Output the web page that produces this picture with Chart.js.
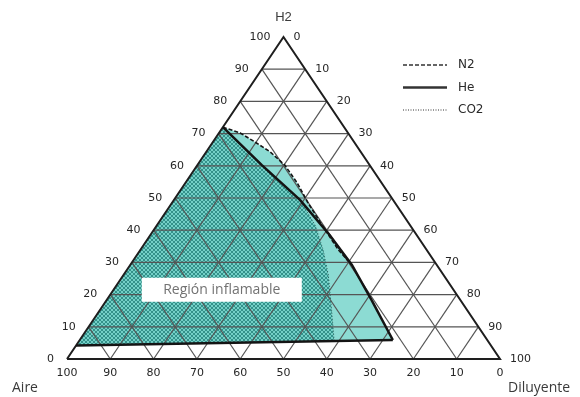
<!DOCTYPE html>
<html lang="es">
<head>
<meta charset="utf-8">
<title>Diagrama ternario H2 - Aire - Diluyente</title>
<script src="https://cdn.jsdelivr.net/npm/chart.js"></script>
<style>
  html, body { margin: 0; padding: 0; background: #fff; }
  #wrap { width: 580px; height: 397px; }
</style>
</head>
<body>
<div id="wrap"><canvas id="ternaryChart" width="580" height="397"></canvas></div>
<script>
// Tick values (percent)
const h2Ticks = [0, 10, 20, 30, 40, 50, 60, 70, 80, 90, 100];
const aireTicks = [100, 90, 80, 70, 60, 50, 40, 30, 20, 10, 0];
const gridSteps = [10, 20, 30, 40, 50, 60, 70, 80, 90];

// Flammability boundaries, each point is [Diluyente %, H2 %]
const heBoundary = [[0, 72], [14.9, 60.2], [29.1, 49.4], [41.4, 38.5], [51.2, 29.2], [61.2, 18.3], [72.3, 5.9]];
const n2Boundary = [[0, 72], [4.9, 70.2], [9.7, 67.4], [14.8, 64.3], [20.2, 60.2], [25.8, 54.7], [31.5, 48.4], [38.1, 41.6], [45.7, 33.9], [51.2, 29.2]];
const co2Boundary = [[0, 72], [14.9, 60.2], [29.1, 49.4], [36.5, 41.6], [42.2, 33.9], [47.3, 26.1], [52.6, 16.8], [58.9, 5.6]];
const lowerLimit = [[72.3, 5.9], [0, 4.2]];
const regionLabel = [25, 21.5];

// ternary -> cartesian (x along base, y = H2 height)
const toXY = ([d, h]) => ({ x: (d + h / 2) / 100, y: h / 100 });

const lineDs = (pts, opts) => Object.assign({
  data: pts.map(toXY),
  showLine: true,
  pointRadius: 0,
  borderColor: '#555',
  borderWidth: 1.2,
  fill: false,
  tension: 0,
  clip: false
}, opts);

// Cross hatch pattern for the CO2 region
function makeHatch() {
  const c = document.createElement('canvas');
  c.width = 4;
  c.height = 4;
  const g = c.getContext('2d');
  g.fillStyle = '#74d0c7';
  g.fillRect(0, 0, 4, 4);
  g.fillStyle = '#34918a';
  for (let i = 0; i < 4; i++) {
    g.fillRect(i, i, 1, 1);
    g.fillRect(3 - i, i, 1, 1);
  }
  return g.createPattern(c, 'repeat');
}

const lightTeal = '#8cdbd3';
const heTail = heBoundary.filter(p => p[0] > 51.2);

const datasets = [];

// Filled regions
datasets.push(lineDs(n2Boundary.concat(heTail, [[0, 4.2]]), {
  borderWidth: 0, borderColor: 'rgba(0,0,0,0)', backgroundColor: lightTeal, fill: 'shape', order: 100
}));
datasets.push(lineDs(heBoundary.concat([[0, 4.2]]), {
  borderWidth: 0, borderColor: 'rgba(0,0,0,0)', backgroundColor: lightTeal, fill: 'shape', order: 99
}));
datasets.push(lineDs(co2Boundary.concat([[0, 4.2]]), {
  borderWidth: 0, borderColor: 'rgba(0,0,0,0)', backgroundColor: makeHatch(), fill: 'shape', order: 98
}));

// Grid lines
gridSteps.forEach(k => {
  datasets.push(lineDs([[0, k], [100 - k, k]], { order: 50 }));
  datasets.push(lineDs([[k, 0], [k, 100 - k]], { order: 50 }));
  datasets.push(lineDs([[100 - k, 0], [0, 100 - k]], { order: 50 }));
});

// Triangle outline
datasets.push(lineDs([[0, 0], [100, 0], [0, 100], [0, 0]], {
  borderColor: '#1e1e1e', borderWidth: 2, order: 40
}));

// Boundary lines
datasets.push(lineDs(co2Boundary, { borderColor: '#2c5f5a', borderWidth: 1, borderDash: [1, 2], order: 30 }));
datasets.push(lineDs(n2Boundary, { borderColor: '#151515', borderWidth: 1.6, borderDash: [4, 2], order: 20 }));
datasets.push(lineDs(heBoundary, { borderColor: '#141414', borderWidth: 2.5, order: 10 }));
datasets.push(lineDs(lowerLimit, { borderColor: '#141414', borderWidth: 2.5, order: 10 }));

// Texts: tick labels, vertex names, legend and region label
const textPlugin = {
  id: 'ternaryText',
  afterDatasetsDraw(chart) {
    const ctx = chart.ctx;
    const sx = chart.scales.x;
    const sy = chart.scales.y;
    const px = (d, h) => [sx.getPixelForValue((d + h / 2) / 100), sy.getPixelForValue(h / 100)];
    ctx.save();

    // Región inflamable
    const [lx, ly] = px(regionLabel[0], regionLabel[1]);
    ctx.fillStyle = '#ffffff';
    ctx.fillRect(lx - 80, ly - 12, 160, 24);
    ctx.font = '14px "Open Sans", sans-serif';
    ctx.fillStyle = '#727272';
    ctx.textAlign = 'center';
    ctx.textBaseline = 'middle';
    ctx.fillText('Región inflamable', lx, ly);

    // tick labels
    ctx.font = '11px "DejaVu Sans", sans-serif';
    ctx.fillStyle = '#262626';
    h2Ticks.forEach(h => {
      const [x, y] = px(0, h);
      ctx.textAlign = 'right';
      ctx.fillText(String(h), x - 13, y);
      const [x2, y2] = px(100 - h, h);
      ctx.textAlign = 'left';
      ctx.fillText(String(100 - h), x2 + 10, y2);
    });
    aireTicks.forEach(a => {
      const [x, y] = px(100 - a, 0);
      ctx.textAlign = 'center';
      ctx.fillText(String(a), x, y + 14);
    });

    // vertex names
    ctx.fillStyle = '#3a3a3a';
    ctx.font = '13px "Liberation Sans", sans-serif';
    const [tx, ty] = px(0, 100);
    ctx.textAlign = 'center';
    ctx.fillText('H2', tx, ty - 20);
    ctx.font = '14px "Open Sans", sans-serif';
    const [ax, ay] = px(0, 0);
    ctx.textAlign = 'left';
    ctx.fillText('Aire', ax - 55, ay + 29);
    const [dx, dy] = px(100, 0);
    ctx.fillText('Diluyente', dx + 8, dy + 29);

    // legend
    const legend = [
      { label: 'N2', dash: [4, 2], width: 1.6 },
      { label: 'He', dash: [], width: 2.5 },
      { label: 'CO2', dash: [1, 1.5], width: 1 }
    ];
    ctx.font = '12px "DejaVu Sans", sans-serif';
    legend.forEach((item, i) => {
      const y = 65 + i * 22.5;
      ctx.strokeStyle = '#333';
      ctx.lineWidth = item.width;
      ctx.setLineDash(item.dash);
      ctx.beginPath();
      ctx.moveTo(403, y);
      ctx.lineTo(447, y);
      ctx.stroke();
      ctx.fillStyle = '#2a2a2a';
      ctx.textAlign = 'left';
      ctx.fillText(item.label, 458, y);
    });
    ctx.restore();
  }
};

new Chart(document.getElementById('ternaryChart'), {
  type: 'scatter',
  data: { datasets: datasets },
  options: {
    responsive: false,
    animation: false,
    events: [],
    layout: { padding: { left: 67, right: 80, top: 37, bottom: 38 } },
    scales: {
      x: { type: 'linear', min: 0, max: 1, display: false },
      y: { type: 'linear', min: 0, max: 1, display: false }
    },
    plugins: {
      legend: { display: false },
      tooltip: { enabled: false }
    }
  },
  plugins: [textPlugin]
});
</script>
</body>
</html>
